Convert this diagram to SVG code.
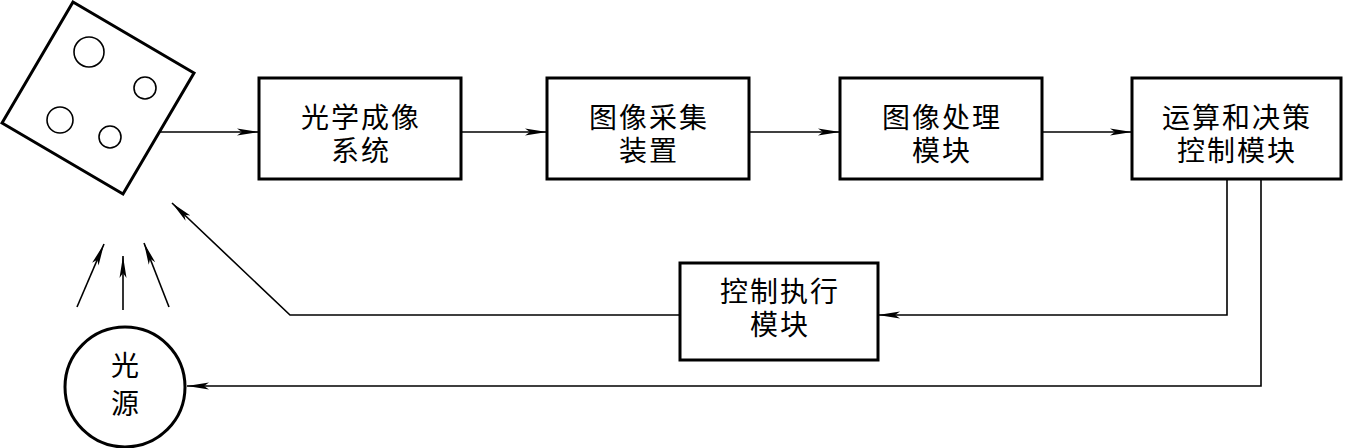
<svg xmlns="http://www.w3.org/2000/svg" width="1345" height="448" viewBox="0 0 1345 448">
<style>
.box{fill:#fff;stroke:#000;stroke-width:3}
.ln{fill:none;stroke:#000;stroke-width:1.6}
.t{font-family:"Liberation Sans","Noto Sans CJK SC",sans-serif;font-size:28px;letter-spacing:2px;fill:#000;text-anchor:middle}
</style>
<defs>
<marker id="ah" markerWidth="24" markerHeight="10" refX="22" refY="5" orient="auto" markerUnits="userSpaceOnUse">
<path d="M0,1.5 L22,5 L0,8.5 L5,5 Z" fill="#000"/>
</marker>
</defs>
<g id="object">
<polygon points="73,2 194,73 123,194 2,123" class="box"/>
<circle cx="89" cy="52" r="15" class="ln" stroke-width="2.5"/>
<circle cx="145" cy="88" r="11" class="ln" stroke-width="2.5"/>
<circle cx="60" cy="120" r="13" class="ln" stroke-width="2.5"/>
<circle cx="110" cy="137" r="11" class="ln" stroke-width="2.5"/>
</g>
<g id="n1"><rect x="259" y="78" width="202" height="101" class="box"/><text class="t"><tspan x="361" y="128">光学成像</tspan><tspan x="361" y="161">系统</tspan></text></g>
<g id="n2"><rect x="547" y="78" width="202" height="101" class="box"/><text class="t"><tspan x="649" y="128">图像采集</tspan><tspan x="649" y="161">装置</tspan></text></g>
<g id="n3"><rect x="840" y="78" width="202" height="101" class="box"/><text class="t"><tspan x="942" y="128">图像处理</tspan><tspan x="942" y="161">模块</tspan></text></g>
<g id="n4"><rect x="1132" y="78" width="209" height="101" class="box"/><text class="t"><tspan x="1237" y="128">运算和决策</tspan><tspan x="1237" y="161">控制模块</tspan></text></g>
<g id="n5"><rect x="680" y="263" width="198" height="97" class="box"/><text class="t"><tspan x="780" y="302">控制执行</tspan><tspan x="780" y="335">模块</tspan></text></g>
<g id="n6"><circle cx="125" cy="387" r="60" class="box"/><text class="t"><tspan x="126" y="376">光</tspan><tspan x="126" y="414">源</tspan></text></g>
<g id="connectors">
<line x1="160" y1="132" x2="259" y2="132" class="ln" marker-end="url(#ah)"/>
<line x1="461" y1="132" x2="547" y2="132" class="ln" marker-end="url(#ah)"/>
<line x1="749" y1="132" x2="840" y2="132" class="ln" marker-end="url(#ah)"/>
<line x1="1042" y1="132" x2="1132" y2="132" class="ln" marker-end="url(#ah)"/>
<polyline points="1227,179 1227,315 878,315" class="ln" marker-end="url(#ah)"/>
<polyline points="680,315 290,315 172,203" class="ln" marker-end="url(#ah)"/>
<polyline points="1261,179 1261,386 187,386" class="ln" marker-end="url(#ah)"/>
<line x1="77" y1="307" x2="104" y2="244" class="ln" marker-end="url(#ah)"/>
<line x1="123" y1="310" x2="123" y2="256" class="ln" marker-end="url(#ah)"/>
<line x1="169" y1="307" x2="144" y2="243" class="ln" marker-end="url(#ah)"/>
</g>
</svg>
